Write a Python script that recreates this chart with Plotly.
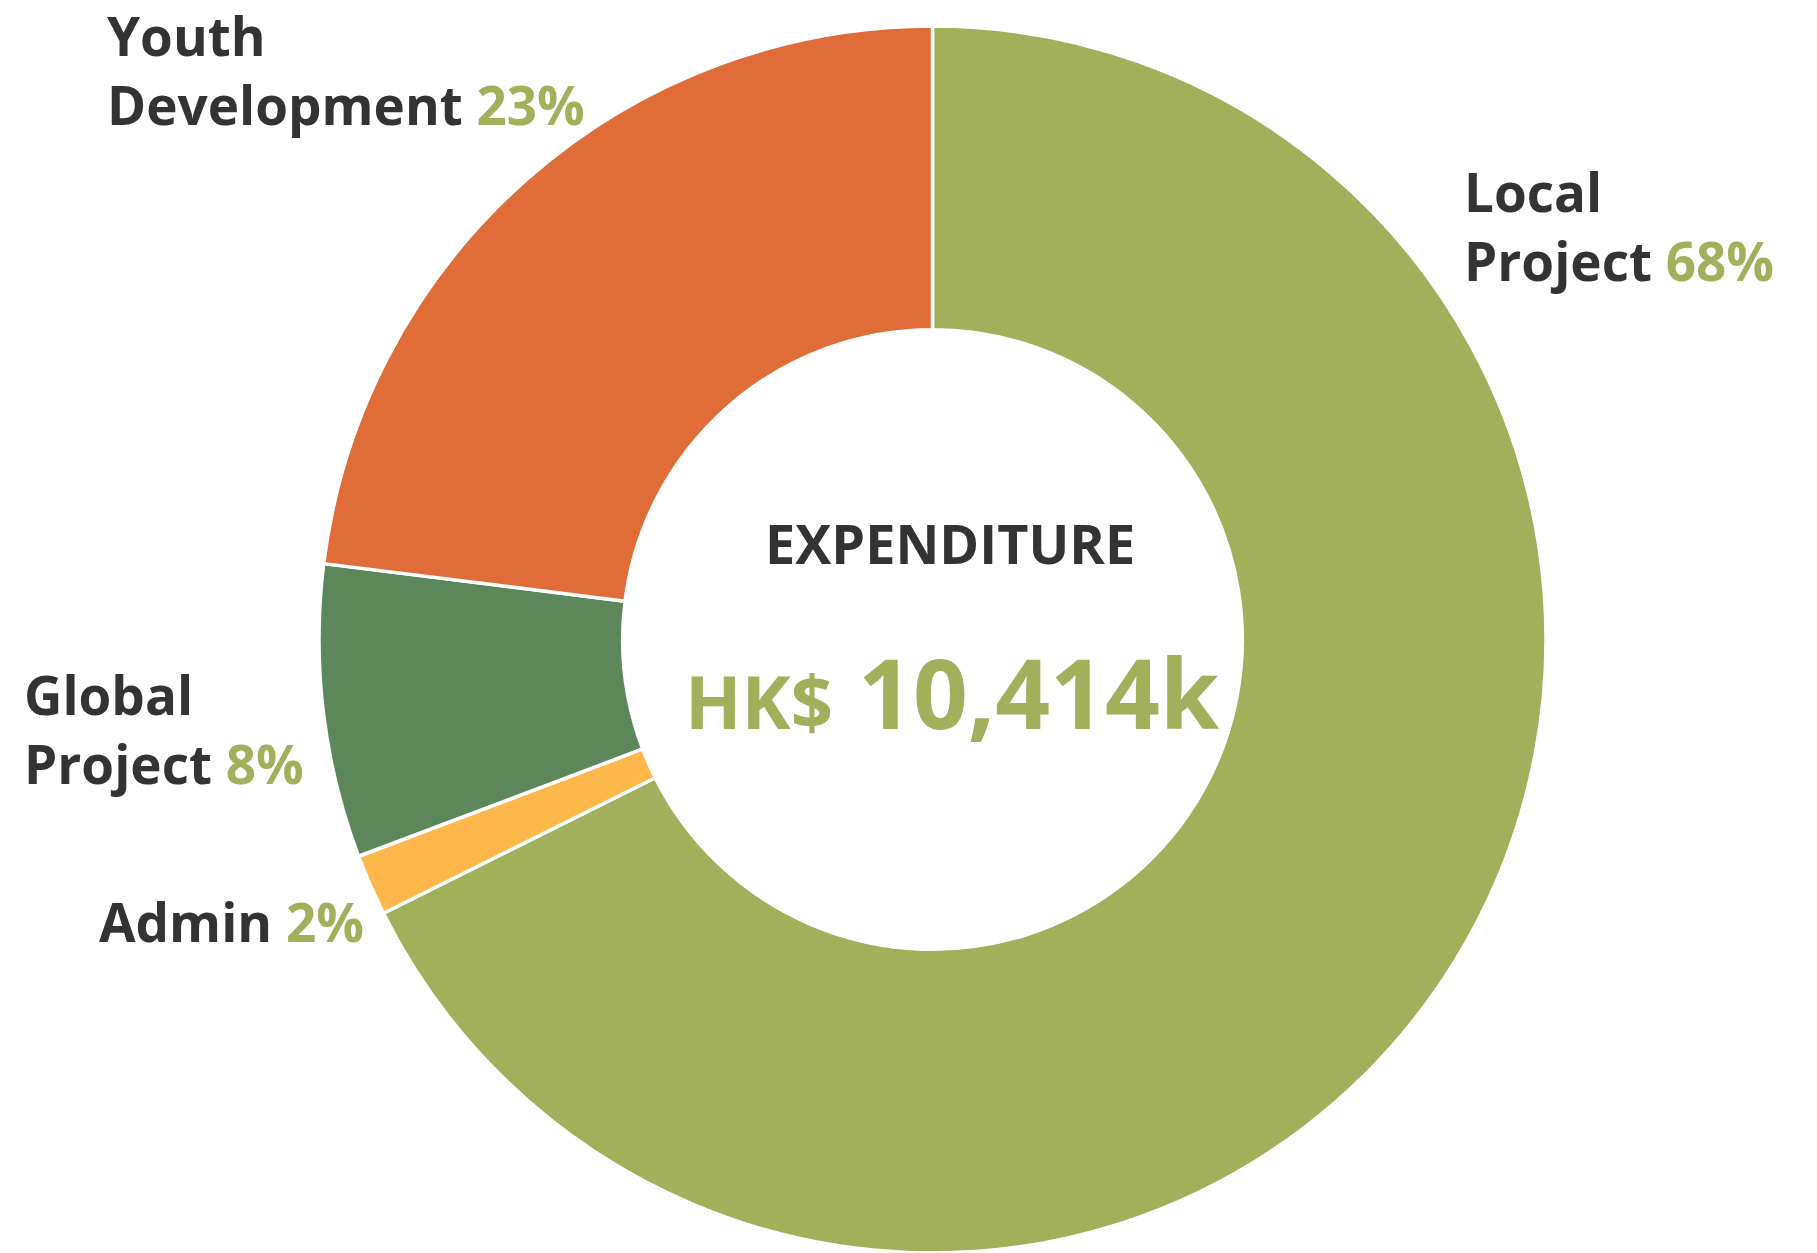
import plotly.graph_objects as go

# ---- data (HK$ thousands), clockwise from 12 o'clock ----
categories = ["Local Project", "Admin", "Global Project", "Youth Development"]
label_lines = ["Local<br>Project", "Admin", "Global<br>Project", "Youth<br>Development"]
values_k = [7044, 168, 804, 2398]
colors = ["#A2AF5B", "#FDB74A", "#5C875A", "#E06C37"]
center_title = "EXPENDITURE"
currency = "HK$"

W, H = 1817, 1253
DARK = "#333333"
GREEN = "#A2AF5B"
FONT = "Open Sans"

total = sum(values_k)


def px(x):
    return x / W


def py(y):
    return 1 - y / H


# donut geometry (pixels)
cx, top = 932.5, 26
r = (H - top) / 2

fig = go.Figure(
    go.Pie(
        labels=categories,
        values=values_k,
        marker=dict(colors=colors, line=dict(color="white", width=3.5)),
        hole=0.505,
        sort=False,
        direction="clockwise",
        rotation=0,
        textinfo="none",
        hoverinfo="label+value+percent",
        showlegend=False,
        domain=dict(x=[px(cx - r), px(cx + r)], y=[0, py(top)]),
    )
)

# label placement: left x and cap-top of first line (pixels)
label_pos = {
    "Local Project": (1462, 173),
    "Admin": (97, 903),
    "Global Project": (22, 676),
    "Youth Development": (105, 17),
}
FS = 53
annotations = []
for name, lines, v in zip(categories, label_lines, values_k):
    pct = round(v / total * 100)
    x0, captop = label_pos[name]
    boxtop = captop - 0.355 * FS - 1
    annotations.append(
        dict(
            text=f"{lines} <span style='color:{GREEN}'>{pct}%</span>",
            x=px(x0), y=py(boxtop), xref="paper", yref="paper",
            xanchor="left", yanchor="top", align="left", showarrow=False,
            font=dict(family=FONT, size=FS, color=DARK, weight="bold"),
        )
    )

# centre texts
annotations.append(
    dict(
        text=center_title,
        x=px(950), y=py(524 - 0.355 * 54 - 1), xref="paper", yref="paper",
        xanchor="center", yanchor="top", showarrow=False,
        font=dict(family=FONT, size=54, color=DARK, weight="bold"),
    )
)
annotations.append(
    dict(
        text=f"<span style='font-size:74px'>{currency}</span> {total:,}k",
        x=px(952), y=py(659 - 0.355 * 96 - 1), xref="paper", yref="paper",
        xanchor="center", yanchor="top", showarrow=False,
        font=dict(family=FONT, size=96, color=GREEN, weight="bold"),
    )
)

fig.update_layout(
    width=W, height=H,
    margin=dict(l=0, r=0, t=0, b=0),
    paper_bgcolor="white", plot_bgcolor="white",
    annotations=annotations,
)

fig.write_html(
    "out.html",
    config={"displayModeBar": False},
    post_script="document.body.style.margin='0';document.body.style.overflow='hidden';",
)
